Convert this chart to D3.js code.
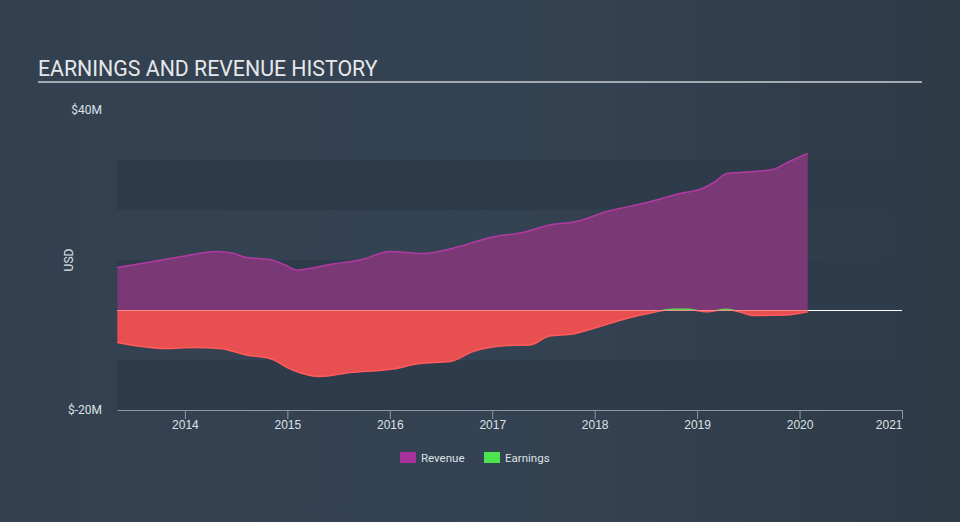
<!DOCTYPE html>
<html><head><meta charset="utf-8">
<script src="https://cdn.jsdelivr.net/npm/d3@7"></script>
<style>html,body{margin:0;padding:0;background:#333f4f;}svg{display:block;font-family:Roboto,"Open Sans",sans-serif;}</style>
</head><body>
<script>
const title = "EARNINGS AND REVENUE HISTORY";
const revenueDates = [2013.34,2013.66,2014.0,2014.31,2014.46,2014.60,2014.83,2014.98,2015.09,2015.44,2015.71,2016.0,2016.32,2016.68,2017.0,2017.30,2017.56,2017.82,2018.12,2018.51,2018.83,2019.05,2019.17,2019.29,2019.41,2019.74,2019.90,2020.08];
const revenueValues = [8.5,9.6,10.8,11.7,11.4,10.5,10.1,9.0,8.0,9.2,10.0,11.7,11.3,12.7,14.6,15.5,17.0,17.7,19.7,21.5,23.3,24.3,25.6,27.3,27.5,28.1,29.7,31.3];
const earningsDates = [2013.34,2013.82,2014.08,2014.34,2014.60,2014.83,2015.05,2015.32,2015.61,2016.03,2016.29,2016.59,2016.81,2017.14,2017.37,2017.56,2017.79,2018.02,2018.31,2018.57,2018.76,2018.90,2019.09,2019.29,2019.41,2019.54,2019.87,2020.08];
const earningsValues = [-6.5,-7.7,-7.5,-7.7,-9.0,-9.7,-12.0,-13.3,-12.5,-11.8,-10.7,-10.3,-8.3,-7.1,-7.0,-5.2,-4.8,-3.5,-1.7,-0.5,0.15,0.15,-0.35,0.15,-0.35,-1.1,-1.0,-0.35];
const yearTicks = [2014,2015,2016,2017,2018,2019,2020,2021];
const yTickLabels = ["$40M","$-20M"];
const bandStarts = [30,10,-10];
const legendItems = ["Revenue","Earnings"];

const W=960,H=522;
const svg=d3.select("body").append("svg").attr("width",W).attr("height",H);
const defs=svg.append("defs");
const g=defs.append("linearGradient").attr("id","bg").attr("x1","0").attr("x2","1").attr("y1","0").attr("y2","0");
g.append("stop").attr("offset","0").attr("stop-color","#334050");
g.append("stop").attr("offset","0.5").attr("stop-color","#344353");
g.append("stop").attr("offset","1").attr("stop-color","#2f3a47");
svg.append("rect").attr("width",W).attr("height",H).attr("fill","url(#bg)");

const x=d3.scaleLinear().domain([2013.337,2021]).range([117,902]);
const y=d3.scaleLinear().domain([-20,40]).range([410,110]);

// bands
svg.selectAll("rect.band").data(bandStarts).enter().append("rect")
  .attr("x",x.range()[0]).attr("width",x.range()[1]-x.range()[0])
  .attr("y",d=>y(d)).attr("height",d=>y(d-10)-y(d)).attr("fill","#2e3b4a");

// title
svg.append("text").attr("x",38).attr("y",76).attr("fill","#e6e8ea").attr("font-size",21.3).text(title);
svg.append("line").attr("x1",38).attr("x2",922).attr("y1",82).attr("y2",82).attr("stroke","#a3aab2").attr("stroke-width",2);

// y labels
svg.append("text").attr("x",102).attr("y",y(40)+4).attr("text-anchor","end").attr("fill","#dde1e5").attr("font-size",12).text(yTickLabels[0]);
svg.append("text").attr("x",102).attr("y",y(-20)+4).attr("text-anchor","end").attr("fill","#dde1e5").attr("font-size",12).text(yTickLabels[1]);
svg.append("text").attr("transform","translate(73,260) rotate(-90)").attr("text-anchor","middle").attr("fill","#dde1e5").attr("font-size",12).text("USD");

// zero line
svg.append("line").attr("x1",x.range()[0]).attr("x2",x.range()[1]).attr("y1",y(0)+0.5).attr("y2",y(0)+0.5).attr("stroke","#ffffff").attr("stroke-width",1);

const rev=revenueDates.map((d,i)=>({d,v:revenueValues[i]}));
const ear=earningsDates.map((d,i)=>({d,v:earningsValues[i]}));
const curve=d3.curveMonotoneX;

svg.append("path").datum(rev).attr("fill","#7a3875")
  .attr("d",d3.area().curve(curve).x(d=>x(d.d)).y0(y(0)).y1(d=>y(d.v)));
svg.append("path").datum(rev).attr("fill","none").attr("stroke","#b23aa3").attr("stroke-width",1.5)
  .attr("d",d3.line().curve(curve).x(d=>x(d.d)).y(d=>y(d.v)));

defs.append("clipPath").attr("id","below").append("rect").attr("x",0).attr("y",y(0)).attr("width",W).attr("height",H);
defs.append("clipPath").attr("id","above").append("rect").attr("x",0).attr("y",0).attr("width",W).attr("height",y(0));

svg.append("path").datum(ear).attr("fill","#e84f51").attr("clip-path","url(#below)")
  .attr("d",d3.area().curve(curve).x(d=>x(d.d)).y0(y(0)).y1(d=>y(d.v)));
svg.append("path").datum(ear).attr("fill","none").attr("stroke","#ff5b5b").attr("stroke-width",1.5).attr("clip-path","url(#below)")
  .attr("d",d3.line().curve(curve).x(d=>x(d.d)).y(d=>y(d.v)));
svg.append("path").datum(ear).attr("fill","none").attr("stroke","#5fd94f").attr("stroke-width",1.5).attr("clip-path","url(#above)")
  .attr("d",d3.line().curve(curve).x(d=>x(d.d)).y(d=>y(d.v)));
svg.append("line").attr("x1",x(revenueDates[0])).attr("x2",x(revenueDates[revenueDates.length-1])).attr("y1",y(0)+0.5).attr("y2",y(0)+0.5).attr("stroke","#f58a8a").attr("stroke-width",1);

// x axis
const ax=svg.append("g").attr("transform",`translate(0,${y(-20)})`)
  .call(d3.axisBottom(x).tickValues(yearTicks).tickFormat(d3.format("d")).tickSize(9).tickSizeOuter(0));
ax.select(".domain").attr("stroke","#8c97a3");
ax.selectAll(".tick line").attr("stroke","#8c97a3");
ax.selectAll(".tick text").attr("fill","#dde1e5").attr("font-size",12).attr("y",12).attr("dy","0.6em")
  .attr("text-anchor",d=>d===2021?"end":"middle");

// legend
const legColors=["#a9339c","#4ee44e"];
const legX=[400,484];
legendItems.forEach((t,i)=>{
  svg.append("rect").attr("x",legX[i]).attr("y",452).attr("width",16).attr("height",11).attr("fill",legColors[i]);
  svg.append("text").attr("x",legX[i]+21).attr("y",462).attr("fill","#dde1e5").attr("font-size",11.5).text(t);
});
</script>
</body></html>
